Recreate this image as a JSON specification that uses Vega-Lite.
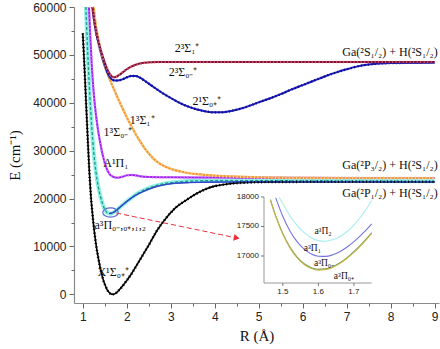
{
"$schema":"https://vega.github.io/schema/vega-lite/v6.json",
"width":365,"height":296,
"autosize":{"type":"none"},
"padding":{"left":74,"top":7,"right":1,"bottom":46},
"config":{"view":{"stroke":null},"axis":{"grid":false}},
"datasets":{
"main":[
{"s":"a3","r":1.07,"e":60000},{"s":"a3","r":1.1,"e":53000},{"s":"a3","r":1.13,"e":47000},{"s":"a3","r":1.16,"e":41500},{"s":"a3","r":1.2,"e":35500},{"s":"a3","r":1.25,"e":29500},{"s":"a3","r":1.3,"e":25500},{"s":"a3","r":1.35,"e":22600},{"s":"a3","r":1.4,"e":20500},{"s":"a3","r":1.45,"e":18900},{"s":"a3","r":1.5,"e":17750},{"s":"a3","r":1.55,"e":17100},{"s":"a3","r":1.6,"e":16850},{"s":"a3","r":1.65,"e":16880},{"s":"a3","r":1.7,"e":17080},{"s":"a3","r":1.8,"e":17800},{"s":"a3","r":1.9,"e":18600},{"s":"a3","r":2.0,"e":19400},{"s":"a3","r":2.1,"e":20100},{"s":"a3","r":2.2,"e":20800},{"s":"a3","r":2.3,"e":21350},{"s":"a3","r":2.5,"e":22200},{"s":"a3","r":2.7,"e":22800},{"s":"a3","r":2.9,"e":23200},{"s":"a3","r":3.2,"e":23500},{"s":"a3","r":3.6,"e":23700},{"s":"a3","r":4.0,"e":23750},{"s":"a3","r":5.0,"e":23750},{"s":"a3","r":6.0,"e":23700},{"s":"a3","r":7.0,"e":23650},{"s":"a3","r":9.0,"e":23600},
{"s":"a3b","r":1.6,"e":16900},{"s":"a3b","r":1.7,"e":17150},{"s":"a3b","r":1.8,"e":17850},{"s":"a3b","r":1.9,"e":18650},{"s":"a3b","r":2.0,"e":19400},{"s":"a3b","r":2.2,"e":20700},{"s":"a3b","r":2.4,"e":21600},{"s":"a3b","r":2.6,"e":22300},{"s":"a3b","r":2.8,"e":22800},{"s":"a3b","r":3.0,"e":23100},{"s":"a3b","r":3.4,"e":23350},{"s":"a3b","r":4.0,"e":23450},{"s":"a3b","r":5.0,"e":23480},{"s":"a3b","r":9.0,"e":23500},
{"s":"X","r":1.0,"e":54500},{"s":"X","r":1.03,"e":49000},{"s":"X","r":1.06,"e":43000},{"s":"X","r":1.09,"e":37000},{"s":"X","r":1.12,"e":31000},{"s":"X","r":1.15,"e":25500},{"s":"X","r":1.18,"e":21000},{"s":"X","r":1.22,"e":16800},{"s":"X","r":1.26,"e":13300},{"s":"X","r":1.3,"e":10500},{"s":"X","r":1.35,"e":7700},{"s":"X","r":1.4,"e":5400},{"s":"X","r":1.45,"e":3500},{"s":"X","r":1.5,"e":2100},{"s":"X","r":1.55,"e":1050},{"s":"X","r":1.6,"e":380},{"s":"X","r":1.65,"e":50},{"s":"X","r":1.7,"e":30},{"s":"X","r":1.75,"e":250},{"s":"X","r":1.8,"e":650},{"s":"X","r":1.9,"e":1700},{"s":"X","r":2.0,"e":2900},{"s":"X","r":2.1,"e":4200},{"s":"X","r":2.2,"e":5700},{"s":"X","r":2.35,"e":8000},{"s":"X","r":2.5,"e":10300},{"s":"X","r":2.7,"e":13500},{"s":"X","r":2.9,"e":16000},{"s":"X","r":3.1,"e":18000},{"s":"X","r":3.37,"e":19800},{"s":"X","r":3.6,"e":21100},{"s":"X","r":3.8,"e":22000},{"s":"X","r":4.0,"e":22600},{"s":"X","r":4.3,"e":23050},{"s":"X","r":4.6,"e":23300},{"s":"X","r":5.0,"e":23430},{"s":"X","r":5.5,"e":23490},{"s":"X","r":6.0,"e":23500},{"s":"X","r":7.0,"e":23500},{"s":"X","r":8.0,"e":23500},{"s":"X","r":9.0,"e":23500},
{"s":"A1Pi","r":1.14,"e":60000},{"s":"A1Pi","r":1.17,"e":54000},{"s":"A1Pi","r":1.2,"e":48500},{"s":"A1Pi","r":1.24,"e":43000},{"s":"A1Pi","r":1.28,"e":39000},{"s":"A1Pi","r":1.32,"e":36000},{"s":"A1Pi","r":1.36,"e":33500},{"s":"A1Pi","r":1.4,"e":31500},{"s":"A1Pi","r":1.45,"e":29200},{"s":"A1Pi","r":1.5,"e":27400},{"s":"A1Pi","r":1.55,"e":26100},{"s":"A1Pi","r":1.6,"e":25250},{"s":"A1Pi","r":1.65,"e":24750},{"s":"A1Pi","r":1.7,"e":24500},{"s":"A1Pi","r":1.8,"e":24350},{"s":"A1Pi","r":1.9,"e":24550},{"s":"A1Pi","r":2.0,"e":24850},{"s":"A1Pi","r":2.1,"e":24950},{"s":"A1Pi","r":2.2,"e":24850},{"s":"A1Pi","r":2.3,"e":24650},{"s":"A1Pi","r":2.5,"e":24500},{"s":"A1Pi","r":3.0,"e":24450},{"s":"A1Pi","r":4.0,"e":24400},{"s":"A1Pi","r":5.0,"e":24350},{"s":"A1Pi","r":9.0,"e":24300},
{"s":"1S","r":1.25,"e":60000},{"s":"1S","r":1.3,"e":56000},{"s":"1S","r":1.35,"e":53500},{"s":"1S","r":1.4,"e":51200},{"s":"1S","r":1.45,"e":49200},{"s":"1S","r":1.5,"e":47700},{"s":"1S","r":1.55,"e":46400},{"s":"1S","r":1.6,"e":45200},{"s":"1S","r":1.7,"e":43000},{"s":"1S","r":1.8,"e":40900},{"s":"1S","r":1.9,"e":38900},{"s":"1S","r":2.0,"e":37000},{"s":"1S","r":2.1,"e":35200},{"s":"1S","r":2.2,"e":33500},{"s":"1S","r":2.3,"e":32000},{"s":"1S","r":2.4,"e":30600},{"s":"1S","r":2.5,"e":29400},{"s":"1S","r":2.6,"e":28400},{"s":"1S","r":2.7,"e":27600},{"s":"1S","r":2.8,"e":27000},{"s":"1S","r":3.0,"e":26200},{"s":"1S","r":3.3,"e":25500},{"s":"1S","r":3.6,"e":25100},{"s":"1S","r":4.0,"e":24800},{"s":"1S","r":4.5,"e":24600},{"s":"1S","r":5.0,"e":24450},{"s":"1S","r":5.5,"e":24360},{"s":"1S","r":6.0,"e":24320},{"s":"1S","r":7.0,"e":24300},{"s":"1S","r":9.0,"e":24300},
{"s":"2S0","r":1.22,"e":60000},{"s":"2S0","r":1.25,"e":57700},{"s":"2S0","r":1.3,"e":54800},{"s":"2S0","r":1.35,"e":52700},{"s":"2S0","r":1.4,"e":50900},{"s":"2S0","r":1.45,"e":49300},{"s":"2S0","r":1.5,"e":47800},{"s":"2S0","r":1.55,"e":46500},{"s":"2S0","r":1.6,"e":45500},{"s":"2S0","r":1.65,"e":44950},{"s":"2S0","r":1.7,"e":44700},{"s":"2S0","r":1.8,"e":44650},{"s":"2S0","r":1.9,"e":44900},{"s":"2S0","r":2.0,"e":45300},{"s":"2S0","r":2.1,"e":45600},{"s":"2S0","r":2.2,"e":45600},{"s":"2S0","r":2.3,"e":45250},{"s":"2S0","r":2.4,"e":44650},{"s":"2S0","r":2.6,"e":43350},{"s":"2S0","r":2.8,"e":42100},{"s":"2S0","r":3.0,"e":41000},{"s":"2S0","r":3.2,"e":40000},{"s":"2S0","r":3.4,"e":39200},{"s":"2S0","r":3.6,"e":38600},{"s":"2S0","r":3.8,"e":38200},{"s":"2S0","r":4.0,"e":38000},{"s":"2S0","r":4.2,"e":38050},{"s":"2S0","r":4.4,"e":38350},{"s":"2S0","r":4.6,"e":38800},{"s":"2S0","r":4.8,"e":39400},{"s":"2S0","r":5.0,"e":40100},{"s":"2S0","r":5.25,"e":40900},{"s":"2S0","r":5.5,"e":41800},{"s":"2S0","r":5.75,"e":42800},{"s":"2S0","r":6.0,"e":43700},{"s":"2S0","r":6.25,"e":44600},{"s":"2S0","r":6.5,"e":45500},{"s":"2S0","r":6.75,"e":46300},{"s":"2S0","r":7.0,"e":47000},{"s":"2S0","r":7.25,"e":47600},{"s":"2S0","r":7.5,"e":48000},{"s":"2S0","r":7.75,"e":48200},{"s":"2S0","r":8.0,"e":48300},{"s":"2S0","r":9.0,"e":48350},
{"s":"2S1","r":1.22,"e":60000},{"s":"2S1","r":1.25,"e":57800},{"s":"2S1","r":1.3,"e":55000},{"s":"2S1","r":1.35,"e":53000},{"s":"2S1","r":1.4,"e":51300},{"s":"2S1","r":1.45,"e":49800},{"s":"2S1","r":1.5,"e":48400},{"s":"2S1","r":1.55,"e":47200},{"s":"2S1","r":1.6,"e":46200},{"s":"2S1","r":1.65,"e":45600},{"s":"2S1","r":1.7,"e":45350},{"s":"2S1","r":1.75,"e":45400},{"s":"2S1","r":1.8,"e":45650},{"s":"2S1","r":1.9,"e":46300},{"s":"2S1","r":2.0,"e":47000},{"s":"2S1","r":2.1,"e":47550},{"s":"2S1","r":2.2,"e":47950},{"s":"2S1","r":2.4,"e":48350},{"s":"2S1","r":2.7,"e":48500},{"s":"2S1","r":3.0,"e":48520},{"s":"2S1","r":9.0,"e":48500}
],
"inset":[
{"s":"p2","r":1.49,"e":17990},{"s":"p2","r":1.5,"e":17885},{"s":"p2","r":1.52,"e":17683},{"s":"p2","r":1.54,"e":17520},{"s":"p2","r":1.56,"e":17395},{"s":"p2","r":1.58,"e":17309},{"s":"p2","r":1.6,"e":17261},{"s":"p2","r":1.62,"e":17251},{"s":"p2","r":1.64,"e":17274},{"s":"p2","r":1.66,"e":17327},{"s":"p2","r":1.68,"e":17411},{"s":"p2","r":1.7,"e":17525},{"s":"p2","r":1.72,"e":17669},{"s":"p2","r":1.74,"e":17844},{"s":"p2","r":1.75,"e":17943},
{"s":"p1","r":1.48,"e":17985},{"s":"p1","r":1.5,"e":17670},{"s":"p1","r":1.52,"e":17425},{"s":"p1","r":1.54,"e":17243},{"s":"p1","r":1.56,"e":17115},{"s":"p1","r":1.58,"e":17035},{"s":"p1","r":1.6,"e":16996},{"s":"p1","r":1.62,"e":16993},{"s":"p1","r":1.64,"e":17020},{"s":"p1","r":1.66,"e":17073},{"s":"p1","r":1.68,"e":17149},{"s":"p1","r":1.7,"e":17244},{"s":"p1","r":1.72,"e":17354},{"s":"p1","r":1.74,"e":17478},{"s":"p1","r":1.75,"e":17545},
{"s":"p0p","r":1.465,"e":17955},{"s":"p0p","r":1.48,"e":17679},{"s":"p0p","r":1.5,"e":17379},{"s":"p0p","r":1.52,"e":17150},{"s":"p0p","r":1.54,"e":16982},{"s":"p0p","r":1.56,"e":16868},{"s":"p0p","r":1.58,"e":16800},{"s":"p0p","r":1.6,"e":16773},{"s":"p0p","r":1.62,"e":16781},{"s":"p0p","r":1.64,"e":16819},{"s":"p0p","r":1.66,"e":16883},{"s":"p0p","r":1.68,"e":16969},{"s":"p0p","r":1.7,"e":17073},{"s":"p0p","r":1.72,"e":17193},{"s":"p0p","r":1.74,"e":17325},{"s":"p0p","r":1.75,"e":17395},
{"s":"p0m","r":1.465,"e":17943},{"s":"p0m","r":1.48,"e":17667},{"s":"p0m","r":1.5,"e":17367},{"s":"p0m","r":1.52,"e":17138},{"s":"p0m","r":1.54,"e":16970},{"s":"p0m","r":1.56,"e":16856},{"s":"p0m","r":1.58,"e":16788},{"s":"p0m","r":1.6,"e":16761},{"s":"p0m","r":1.62,"e":16769},{"s":"p0m","r":1.64,"e":16807},{"s":"p0m","r":1.66,"e":16871},{"s":"p0m","r":1.68,"e":16957},{"s":"p0m","r":1.7,"e":17061},{"s":"p0m","r":1.72,"e":17181},{"s":"p0m","r":1.74,"e":17313},{"s":"p0m","r":1.75,"e":17383}
],
"lab":[
{"r":3.37,"e":51440,"t":"2³Σ₁⁺"},
{"r":3.28,"e":46430,"t":"2³Σ₀₋⁺"},
{"r":3.82,"e":40370,"t":"2¹Σ₀₊⁺"},
{"r":2.35,"e":36400,"t":"1³Σ₁⁺"},
{"r":1.8,"e":33900,"t":"1³Σ₀₋⁺"},
{"r":1.75,"e":27430,"t":"A¹Π₁"},
{"r":1.85,"e":14480,"t":"a³Π₀₋,₀₊,₁,₂"},
{"r":1.69,"e":4670,"t":"X¹Σ₀₊⁺"}
],
"labR":[
{"r":9.07,"e":50600,"t":"Ga(²S₁/₂) + H(²S₁/₂)"},
{"r":9.07,"e":27010,"t":"Ga(²P₃/₂) + H(²S₁/₂)"},
{"r":9.07,"e":21160,"t":"Ga(²P₁/₂) + H(²S₁/₂)"}
],
"ilab":[
{"r":1.613,"e":17420,"t":"a³Π₂"},
{"r":1.583,"e":17130,"t":"a³Π₁"},
{"r":1.616,"e":16880,"t":"a³Π₀₋"},
{"r":1.672,"e":16660,"t":"a³Π₀₊"}
],
"ixt":[{"v":1.5},{"v":1.6},{"v":1.7}],
"iyt":[{"v":17000},{"v":17500},{"v":18000}],
"one":[{"k":1}],
"arrow":[{"r":1.76,"e":16990,"r2":4.5,"e2":11780}],
"ell":[{"r":1.63,"e":17100}]
},
"layer":[
{"layer":[
 {"data":{"name":"main"},"mark":{"type":"line","interpolate":"monotone"},
  "encoding":{
   "x":{"field":"r","type":"quantitative","scale":{"domain":[0.8,9.1],"nice":false,"zero":false},
        "axis":{"orient":"bottom","values":[1,2,3,4,5,6,7,8,9],"title":"R (Å)","titleFont":"Liberation Serif","titleFontSize":15,"titleFontWeight":"normal","titleColor":"#111","titlePadding":6,"labelFont":"Liberation Sans","labelFontSize":12,"labelColor":"#222","labelPadding":3,"tickSize":5,"tickColor":"#666","domainColor":"#8a8a8a","domainWidth":1.2,"labelFlush":false,"labelOverlap":false,"grid":false}},
   "y":{"field":"e","type":"quantitative","scale":{"domain":[-1800,60000],"nice":false,"zero":false},
        "axis":{"orient":"left","values":[0,10000,20000,30000,40000,50000,60000],"format":"d","title":"E (cm⁻¹)","titleFont":"Liberation Serif","titleFontSize":15,"titleFontWeight":"normal","titleColor":"#111","titlePadding":10,"labelFont":"Liberation Sans","labelFontSize":12,"labelColor":"#222","labelPadding":3,"tickSize":5,"tickColor":"#666","domainColor":"#8a8a8a","domainWidth":1.2,"labelFlush":false,"labelOverlap":false,"grid":false}},
   "color":{"field":"s","type":"nominal","scale":{"domain":["a3","a3b","X","A1Pi","1S","2S0","2S1"],"range":["#8ef0e4","#3346c8","#000000","#a21ff0","#f29a38","#1b1bc6","#7c1232"]},"legend":null},
   "strokeWidth":{"field":"s","type":"nominal","scale":{"type":"ordinal","domain":["a3","a3b","X","A1Pi","1S","2S0","2S1"],"range":[4,1.2,1.6,2,2.2,2,2]},"legend":null}
  }},
 {"data":{"name":"main"},"mark":{"type":"line","interpolate":"monotone","strokeCap":"butt"},
  "encoding":{
   "x":{"field":"r","type":"quantitative","axis":{"orient":"bottom","values":[1.5,2.5,3.5,4.5,5.5,6.5,7.5,8.5],"labels":false,"domain":false,"tickSize":3,"tickColor":"#666","title":null,"grid":false}},
   "y":{"field":"e","type":"quantitative","axis":{"orient":"left","values":[5000,15000,25000,35000,45000,55000],"labels":false,"domain":false,"tickSize":3,"tickColor":"#666","title":null,"grid":false}},
   "stroke":{"field":"s","type":"nominal","scale":{"domain":["a3","a3b","X","A1Pi","1S","2S0","2S1"],"range":["#1e9a8a","#3346c8","#000000","#cf7dfa","#ffd68c","#0c0c70","#ec5a78"]},"legend":null},
   "strokeWidth":{"field":"s","type":"nominal","scale":{"type":"ordinal","domain":["a3","a3b","X","A1Pi","1S","2S0","2S1"],"range":[1.3,1.2,2.6,2.6,2.6,2.4,2.6]},"legend":null},
   "strokeDash":{"field":"s","type":"nominal","scale":{"domain":["a3","a3b","X","A1Pi","1S","2S0","2S1"],"range":[[3,2],[1,0],[1,2.5],[1,2.5],[1,2.5],[1,2.5],[1,2.5]]},"legend":null}
  }},
 {"data":{"name":"arrow"},"mark":{"type":"rule","color":"#e8303c","strokeWidth":1,"strokeDash":[5,3]},
  "encoding":{"x":{"field":"r","type":"quantitative","axis":null},"y":{"field":"e","type":"quantitative","axis":null},"x2":{"field":"r2"},"y2":{"field":"e2"}}},
 {"data":{"name":"arrow"},"mark":{"type":"point","shape":"triangle-right","angle":12,"size":45,"filled":true,"color":"#e8303c","opacity":1},
  "encoding":{"x":{"field":"r2","type":"quantitative","axis":null},"y":{"field":"e2","type":"quantitative","axis":null}}},
 {"data":{"name":"ell"},"mark":{"type":"point","shape":"M-1,0A1,0.6,0,1,1,1,0A1,0.6,0,1,1,-1,0Z","size":240,"filled":false,"fillOpacity":0,"color":"#5a6ad0","strokeWidth":1.2,"opacity":1},
  "encoding":{"x":{"field":"r","type":"quantitative","axis":null},"y":{"field":"e","type":"quantitative","axis":null}}},
 {"data":{"name":"lab"},"mark":{"type":"text","font":"Liberation Serif","fontSize":12,"align":"center","baseline":"middle","color":"#111"},
  "encoding":{"x":{"field":"r","type":"quantitative","axis":null},"y":{"field":"e","type":"quantitative","axis":null},"text":{"field":"t"}}},
 {"data":{"name":"labR"},"mark":{"type":"text","font":"Liberation Serif","fontSize":12,"align":"right","baseline":"middle","color":"#111"},
  "encoding":{"x":{"field":"r","type":"quantitative","axis":null},"y":{"field":"e","type":"quantitative","axis":null},"text":{"field":"t"}}}
],
"resolve":{"scale":{"strokeWidth":"independent"},"axis":{"x":"independent","y":"independent"}}},
{"layer":[
 {"data":{"name":"inset"},"mark":{"type":"line","interpolate":"monotone","strokeWidth":1.1},
  "encoding":{
   "x":{"field":"r","type":"quantitative","scale":{"domain":[1.447,1.75],"range":[190,297.7],"nice":false,"zero":false},"axis":null},
   "y":{"field":"e","type":"quantitative","scale":{"domain":[16542,18000],"range":[276,190],"nice":false,"zero":false},"axis":null},
   "color":{"field":"s","type":"nominal","scale":{"domain":["p2","p1","p0p","p0m"],"range":["#a6efee","#7474e2","#5f9356","#cdb847"]},"legend":null}
  }},
 {"data":{"name":"one"},"mark":{"type":"rule","color":"#999","strokeWidth":1},
  "encoding":{"x":{"datum":1.447,"type":"quantitative","axis":null},"x2":{"datum":1.75},"y":{"datum":16542,"type":"quantitative","axis":null}}},
 {"data":{"name":"one"},"mark":{"type":"rule","color":"#999","strokeWidth":1},
  "encoding":{"x":{"datum":1.447,"type":"quantitative","axis":null},"y":{"datum":16542,"type":"quantitative","axis":null},"y2":{"datum":18000}}},
 {"data":{"name":"ixt"},"mark":{"type":"tick","orient":"vertical","size":3,"thickness":1,"yOffset":1.5,"color":"#777","opacity":1},
  "encoding":{"x":{"field":"v","type":"quantitative","axis":null},"y":{"datum":16542,"type":"quantitative","axis":null}}},
 {"data":{"name":"ixt"},"mark":{"type":"text","font":"Liberation Sans","fontSize":8,"baseline":"top","align":"center","dy":5,"color":"#222"},
  "encoding":{"x":{"field":"v","type":"quantitative","axis":null},"y":{"datum":16542,"type":"quantitative","axis":null},"text":{"field":"v","type":"quantitative","format":".1f"}}},
 {"data":{"name":"iyt"},"mark":{"type":"tick","orient":"horizontal","size":3,"thickness":1,"xOffset":-1.5,"color":"#777","opacity":1},
  "encoding":{"y":{"field":"v","type":"quantitative","axis":null},"x":{"datum":1.447,"type":"quantitative","axis":null}}},
 {"data":{"name":"iyt"},"mark":{"type":"text","font":"Liberation Sans","fontSize":8,"baseline":"middle","align":"right","dx":-5,"color":"#222"},
  "encoding":{"y":{"field":"v","type":"quantitative","axis":null},"x":{"datum":1.447,"type":"quantitative","axis":null},"text":{"field":"v","type":"quantitative","format":"d"}}},
 {"data":{"name":"ilab"},"mark":{"type":"text","font":"Liberation Serif","fontSize":9.5,"align":"center","baseline":"middle","color":"#111"},
  "encoding":{"x":{"field":"r","type":"quantitative","axis":null},"y":{"field":"e","type":"quantitative","axis":null},"text":{"field":"t"}}}
]}
],
"resolve":{"scale":{"x":"independent","y":"independent","color":"independent"}}
}
